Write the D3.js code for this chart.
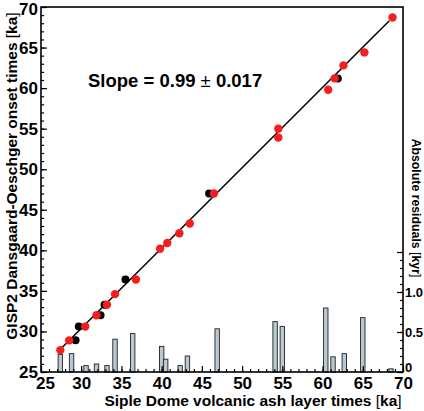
<!DOCTYPE html>
<html><head><meta charset="utf-8">
<script src="https://cdn.jsdelivr.net/npm/d3@7"></script>
<style>
html,body{margin:0;padding:0;background:#fff;}
svg{display:block;font-family:"Liberation Sans",Arial,Helvetica,sans-serif;}
</style></head>
<body>
<svg id="c" width="424" height="411"></svg>
<script>
// ---- data ----
const xTicks = [25,30,35,40,45,50,55,60,65,70];
const yTicks = [25,30,35,40,45,50,55,60,65,70];
const residualTicks = [0,0.5,1.0,1.5];
const residualLabels = ["0","0.5","1.0",""];
const redX = [27.4,28.5,30.5,31.9,33.2,34.2,36.8,39.8,40.7,42.2,43.5,46.5,54.5,54.5,60.7,61.5,62.6,65.2,68.7];
const redY = [27.7,28.9,30.6,32.0,33.3,34.6,36.4,40.2,40.9,42.1,43.3,47.0,55.0,53.9,59.8,61.2,62.8,64.4,68.7];
const blackX = [29.3,29.7,32.4,32.9,35.5,45.9,61.9];
const blackY = [28.9,30.6,32.0,33.3,36.4,47.0,61.2];
const barX = [27.4,28.8,30.6,31.9,33.2,34.2,36.4,40.0,40.5,42.3,43.2,46.9,54.1,55.0,60.4,61.3,62.7,65.0,68.5];
const barH = [0.22,0.23,0.08,0.10,0.08,0.41,0.48,0.32,0.16,0.08,0.20,0.54,0.63,0.57,0.80,0.19,0.23,0.68,0.04];
const lineX = [27.1,68.3];
const lineY = [27.5,68.3];
const slopeText = ["Slope = 0.99 ", "\u00B1", " 0.017"];
const xTitle = "Siple Dome volcanic ash layer times ";
const yTitle = "GISP2 Dansgaard-Oeschger onset times ";
const rTitle = "Absolute residuals ";

// ---- layout ----
const L=41, R=403, T=7, B=372;
const svg = d3.select("#c");
const x = d3.scaleLinear().domain([25,70]).range([L,R]);
const y = d3.scaleLinear().domain([25,70]).range([B,T]);
const r = d3.scaleLinear().domain([0,1.5]).range([B,B-120]);
const barW = x(25.55)-x(25);

// bars
svg.append("g").selectAll("rect").data(barX).join("rect")
  .attr("x", (d)=>x(d)-barW/2).attr("width", barW)
  .attr("y", (d,i)=>r(barH[i])).attr("height",(d,i)=>B-r(barH[i]))
  .attr("fill","#b9c9d1").attr("stroke","#222").attr("stroke-width",0.9);

// fit line
svg.append("line")
  .attr("x1",x(lineX[0])).attr("y1",y(lineY[0]))
  .attr("x2",x(lineX[1])).attr("y2",y(lineY[1]))
  .attr("stroke","#000").attr("stroke-width",1.5);

// points
svg.append("g").selectAll("circle").data(blackX).join("circle")
  .attr("cx",d=>x(d)).attr("cy",(d,i)=>y(blackY[i])).attr("r",4).attr("fill","#000");
svg.append("g").selectAll("circle").data(redX).join("circle")
  .attr("cx",d=>x(d)).attr("cy",(d,i)=>y(redY[i])).attr("r",4.2).attr("fill","#f41e1e");

// axes
function style(g, fs){
  g.select(".domain").remove();
  g.selectAll("line").attr("stroke","#000").attr("stroke-width",1.2);
  g.selectAll("text").attr("font-size",fs).attr("font-weight","bold").attr("fill","#000")
   .attr("font-family","'Liberation Sans',Arial,sans-serif");
}
// left
svg.append("g").attr("transform",`translate(${L},0)`)
  .call(d3.axisLeft(y).tickValues(d3.range(25,71,1)).tickSize(-3).tickFormat(""))
  .call(g=>style(g,0));
const gl = svg.append("g").attr("transform",`translate(${L},0)`)
  .call(d3.axisLeft(y).tickValues(yTicks).tickSizeInner(-6).tickSizeOuter(0).tickPadding(3).tickFormat(d3.format("d")))
  .call(g=>style(g,17));
gl.selectAll(".tick text").filter(d=>d===70).attr("dy","0.42em");
// bottom
svg.append("g").attr("transform",`translate(0,${B})`)
  .call(d3.axisBottom(x).tickValues(d3.range(25,71,1)).tickSize(-3).tickFormat(""))
  .call(g=>style(g,0));
const gb = svg.append("g").attr("transform",`translate(0,${B})`)
  .call(d3.axisBottom(x).tickValues(xTicks).tickSizeInner(-6).tickSizeOuter(0).tickPadding(5).tickFormat(d3.format("d")))
  .call(g=>style(g,17));
gb.selectAll(".tick text").filter(d=>d===25).attr("dx",4);
// right residual axis
svg.append("g").attr("transform",`translate(${R},0)`)
  .call(d3.axisRight(r).tickValues(d3.range(0,1.51,0.1)).tickSize(-3).tickFormat(""))
  .call(g=>style(g,0));
const gr = svg.append("g").attr("transform",`translate(${R},0)`)
  .call(d3.axisRight(r).tickValues(residualTicks).tickSizeInner(-6).tickSizeOuter(0).tickPadding(2)
    .tickFormat((d,i)=>residualLabels[i]))
  .call(g=>style(g,13));
gr.selectAll(".tick text").filter(d=>d===0).attr("dy","-0.05em");

// frame
svg.append("rect").attr("x",L).attr("y",T).attr("width",R-L).attr("height",B-T)
  .attr("fill","none").attr("stroke","#000").attr("stroke-width",1.6);

// titles
function title(sel, main, unit, fs){
  sel.attr("font-size",fs).attr("font-weight","bold").attr("fill","#000");
  sel.append("tspan").text(main);
  sel.append("tspan").attr("font-weight","normal").text("[");
  sel.append("tspan").text(unit);
  sel.append("tspan").attr("font-weight","normal").text("]");
}
svg.append("text").attr("x",253).attr("y",406).attr("text-anchor","middle")
  .call(s=>title(s,xTitle,"ka",15.5));
svg.append("text").attr("transform","translate(17,176) rotate(-90)").attr("text-anchor","middle")
  .call(s=>title(s,yTitle,"ka",15.5));
svg.append("text").attr("transform","translate(412,208) rotate(90)").attr("text-anchor","middle")
  .call(s=>title(s,rTitle,"kyr",12.3));

// slope annotation
const st = svg.append("text").attr("x",88).attr("y",87).attr("font-size",18.5).attr("font-weight","bold").attr("fill","#000");
st.append("tspan").text(slopeText[0]);
st.append("tspan").attr("font-weight","normal").text(slopeText[1]);
st.append("tspan").text(slopeText[2]);
</script>
</body></html>
